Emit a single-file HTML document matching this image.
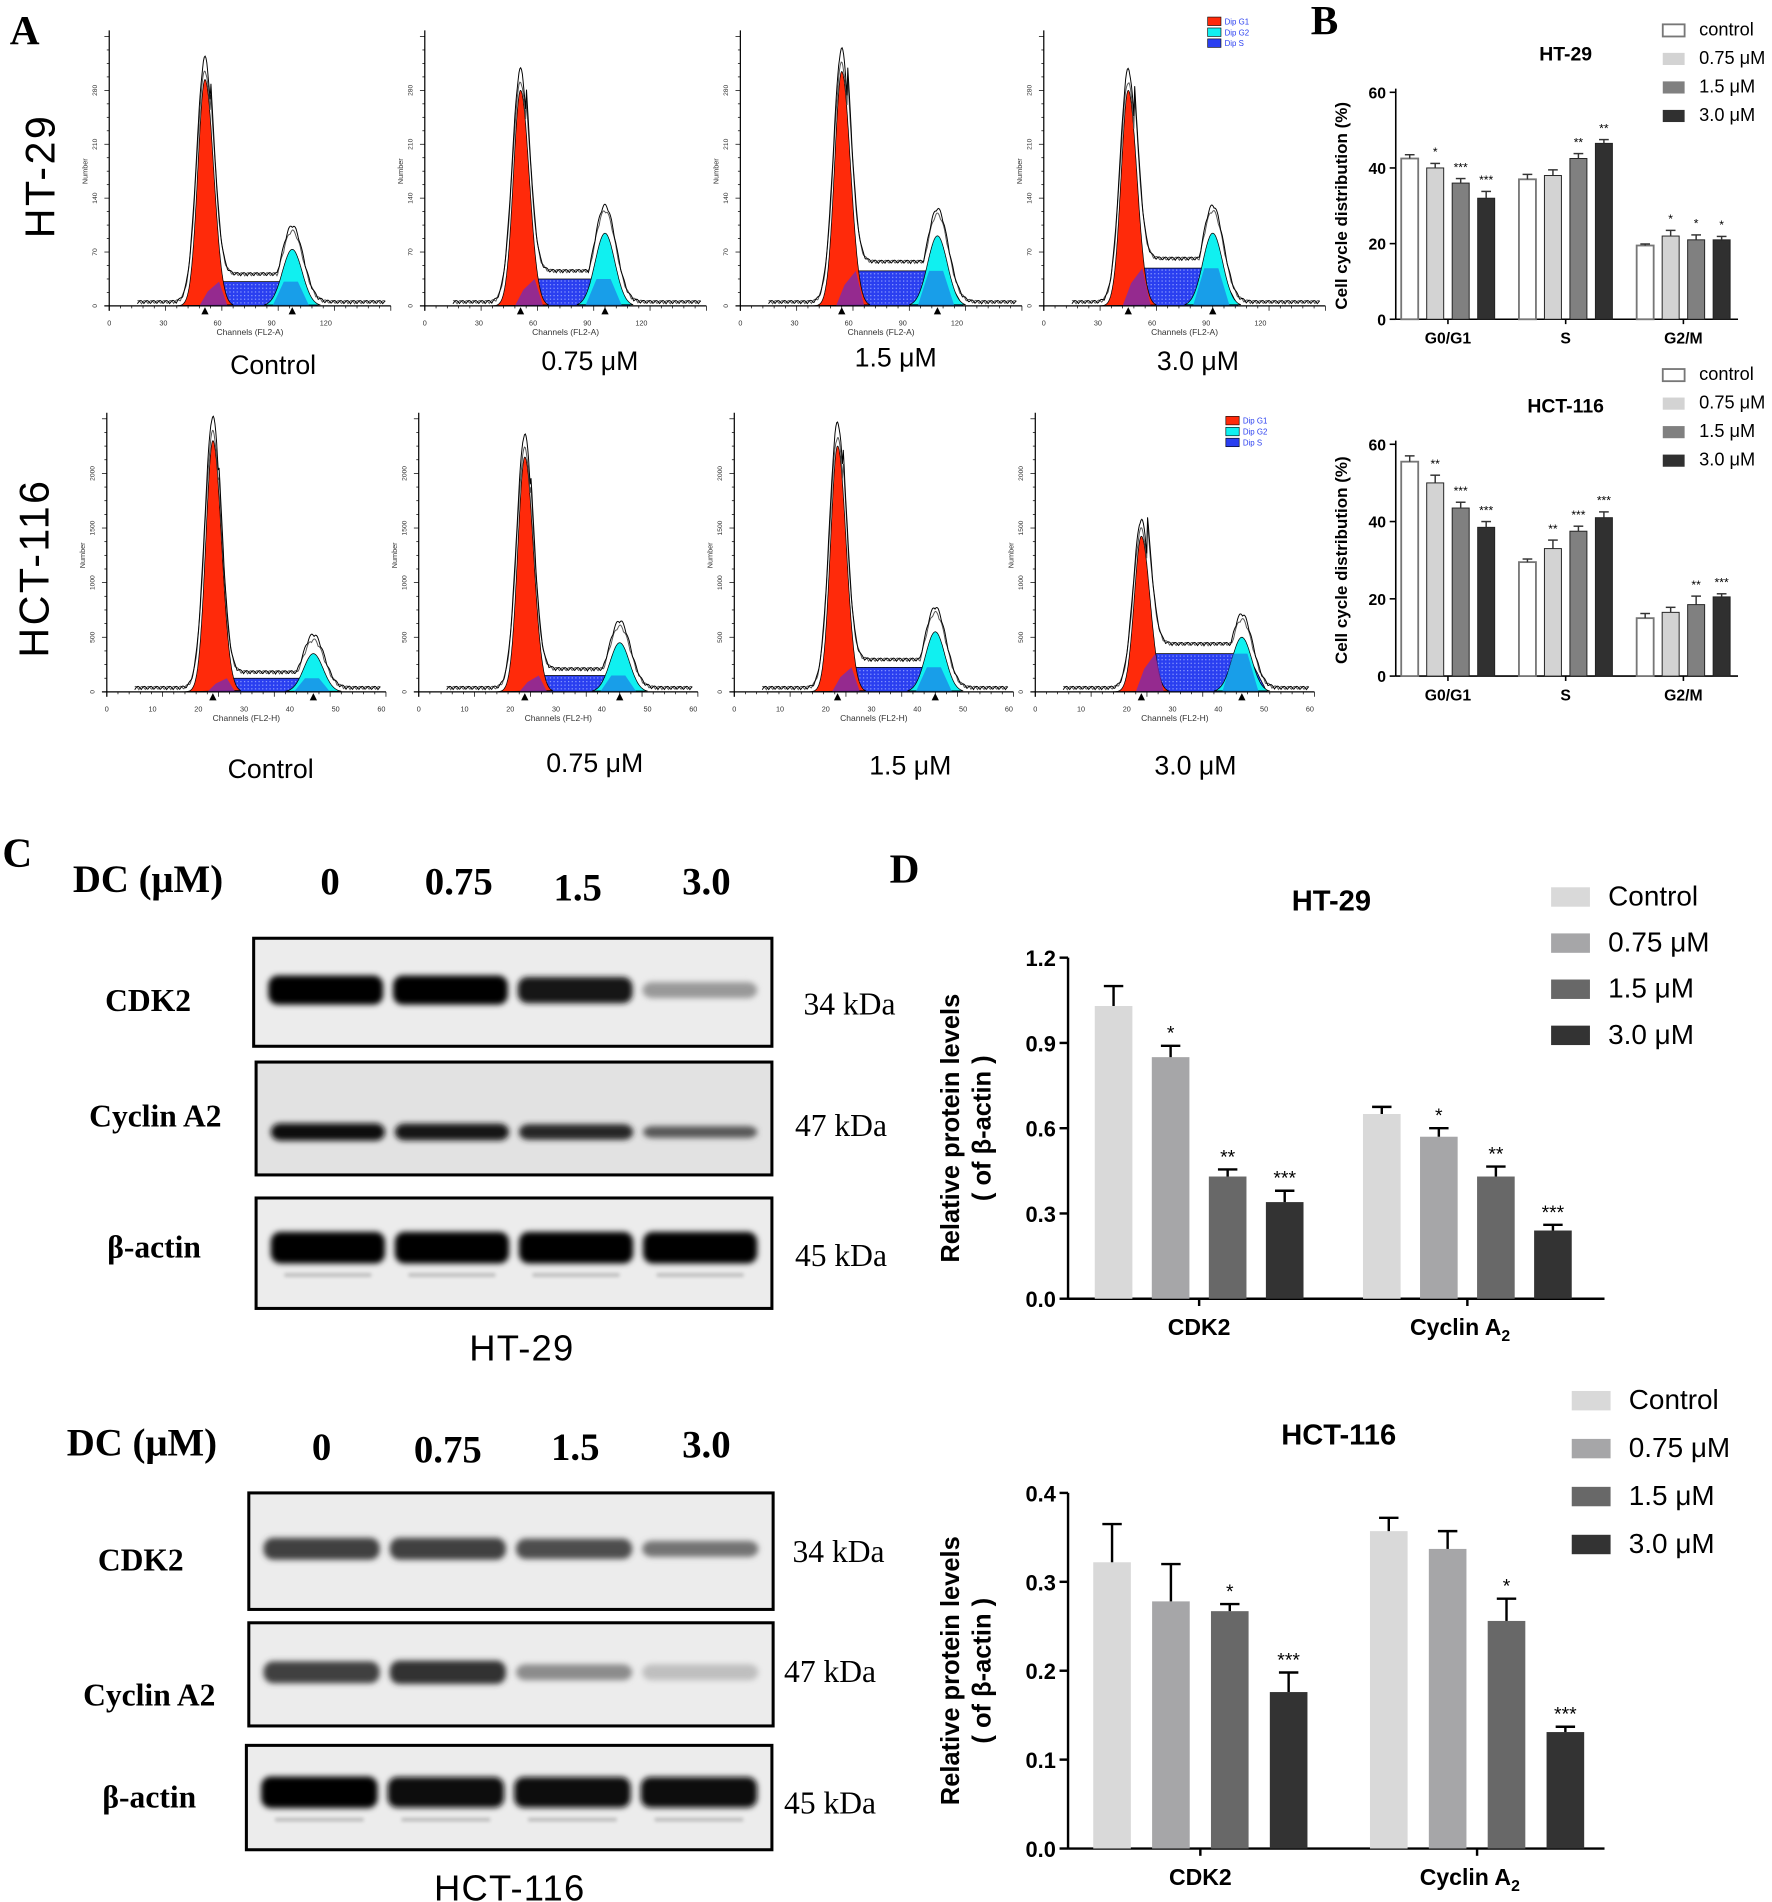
<!DOCTYPE html>
<html><head><meta charset="utf-8"><style>
html,body{margin:0;padding:0;background:#fff;}
svg{display:block;}
</style></head><body>
<svg id="fig" xmlns="http://www.w3.org/2000/svg" width="1772" height="1902" viewBox="0 0 1460 1567">
<defs>
<pattern id="dots" width="3" height="3" patternUnits="userSpaceOnUse"><rect width="3" height="3" fill="#2a3ff0"/><rect width="1" height="1" fill="#8fa0ff"/></pattern>
<filter id="blur" x="-20%" y="-100%" width="140%" height="300%"><feGaussianBlur stdDeviation="2.5"/></filter>
<filter id="blur2" x="-20%" y="-100%" width="140%" height="300%"><feGaussianBlur stdDeviation="1.5"/></filter>
</defs>
<g id="root" font-family="Liberation Sans, sans-serif"></g>
</svg>
<script>
// ---------- data ----------
const histRowNames = ["HT-29", "HCT-116"];
const histDoses = ["Control", "0.75 μM", "1.5 μM", "3.0 μM"];
const ht29G1H = [0.84, 0.80, 0.87, 0.80];
const ht29G1Pos = [0.34, 0.34, 0.36, 0.30];
const ht29SH = [0.09, 0.10, 0.13, 0.14];
const ht29G2H = [0.21, 0.27, 0.26, 0.27];
const ht29G2Pos = [0.65, 0.64, 0.70, 0.60];
const hctG1H = [0.92, 0.86, 0.90, 0.57];
const hctG1Pos = [0.38, 0.38, 0.37, 0.38];
const hctSH = [0.05, 0.06, 0.09, 0.14];
const hctG2H = [0.14, 0.18, 0.22, 0.20];
const hctG2Pos = [0.74, 0.72, 0.72, 0.74];

const bPhases = ["G0/G1", "S", "G2/M"];
const bSeries = ["control", "0.75 μM", "1.5 μM", "3.0 μM"];
const bTicks = [0, 20, 40, 60];
const bHt29 = [[42.5, 37, 19.5], [40, 38, 22], [36, 42.5, 21], [32, 46.5, 21]];
const bHt29Err = [[1, 1.3, 0.4], [1.2, 1.5, 1.5], [1.2, 1.3, 1.3], [1.8, 1, 0.9]];
const bHt29Sig = [["", "", ""], ["*", "", "*"], ["***", "**", "*"], ["***", "**", "*"]];
const bHct = [[55.5, 29.5, 15], [50, 33, 16.5], [43.5, 37.5, 18.5], [38.5, 41, 20.5]];
const bHctErr = [[1.5, 0.8, 1.2], [2, 2.2, 1.3], [1.5, 1.3, 2.2], [1.5, 1.5, 0.8]];
const bHctSig = [["", "", ""], ["**", "**", ""], ["***", "***", "**"], ["***", "***", "***"]];

const dGroups = ["CDK2", "Cyclin A"];
const dSeries = ["Control", "0.75 μM", "1.5 μM", "3.0 μM"];
const dHtTicks = [0.0, 0.3, 0.6, 0.9, 1.2];
const dHt29 = [[1.03, 0.65], [0.85, 0.57], [0.43, 0.43], [0.34, 0.24]];
const dHt29Err = [[0.07, 0.025], [0.04, 0.03], [0.025, 0.035], [0.04, 0.02]];
const dHt29Sig = [["", ""], ["*", "*"], ["**", "**"], ["***", "***"]];
const dHctTicks = [0.0, 0.1, 0.2, 0.3, 0.4];
const dHct = [[0.322, 0.357], [0.278, 0.337], [0.267, 0.256], [0.176, 0.131]];
const dHctErr = [[0.043, 0.015], [0.042, 0.02], [0.008, 0.025], [0.022, 0.006]];
const dHctSig = [["", ""], ["", ""], ["*", "*"], ["***", "***"]];

const blotLanes = ["0", "0.75", "1.5", "3.0"];
const blotHtCdk2 = [1.0, 1.0, 0.9, 0.4];
const blotHtCyc = [0.95, 0.92, 0.85, 0.65];
const blotHtAct = [1, 1, 1, 1];
const blotHcCdk2 = [0.75, 0.75, 0.7, 0.55];
const blotHcCyc = [0.75, 0.8, 0.45, 0.25];
const blotHcAct = [1, 0.97, 0.97, 0.97];

// ---------- helpers ----------
const NS = "http://www.w3.org/2000/svg";
const root = document.getElementById("root");
function mk(tag, attrs, parent) {
  const e = document.createElementNS(NS, tag);
  for (const k in attrs) e.setAttribute(k, attrs[k]);
  (parent || root).appendChild(e);
  return e;
}
function txt(s, x, y, size, opts, parent) {
  const o = Object.assign({x: x, y: y, "font-size": size}, opts || {});
  const t = mk("text", o, parent);
  t.textContent = s;
  return t;
}
function lbl(s, x, y, size, name, opts) {
  const t = txt(s, x, y, size, opts);
  
  
  return t;
}

// ---------- panel labels ----------
lbl("A", 8, 36, 34, "panel-a-label", {"font-family": "Liberation Serif, serif", "font-weight": "bold"});
lbl("B", 1080, 28, 34, "panel-b-label", {"font-family": "Liberation Serif, serif", "font-weight": "bold"});
lbl("C", 2, 714, 34, "panel-c-label", {"font-family": "Liberation Serif, serif", "font-weight": "bold"});
lbl("D", 733, 727, 34, "panel-d-label", {"font-family": "Liberation Serif, serif", "font-weight": "bold"});
lbl("HT-29", 45, 145, 34, "row-label-ht29", {"text-anchor": "middle", transform: "rotate(-90 45 145)", "letter-spacing": "2"});
lbl("HCT-116", 40, 468, 34, "row-label-hct116", {"text-anchor": "middle", transform: "rotate(-90 40 468)", "letter-spacing": "2"});

// ---------- panel A histograms ----------
function gauss(x, mu, s) { return Math.exp(-0.5 * ((x - mu) / s) ** 2); }
function histogram(x0, base, w, top, g1p, g1h, sh, g2p, g2h, name, rowIdx, colIdx) {
  const g = mk("g", {});
  
  
  const H = base - top;
  const X = f => x0 + f * w;
  const s1 = 0.028, s2 = 0.035;
  const N = 200;
  const sL = g1p + 0.03, sR = g2p + 0.02;
  const sPts = [];
  for (let i = 0; i <= N; i++) {
    const f = g1p - 0.06 + (g2p + 0.09 - g1p + 0.06) * i / N;
    let v = 0;
    if (f < sL) v = sh * Math.max(0, (f - (g1p - 0.06)) / (sL - g1p + 0.06));
    else if (f > sR) v = sh * Math.max(0, 1 - (f - sR) / 0.07);
    else v = sh;
    sPts.push([X(f), base - v * H]);
  }
  let d = "M" + sPts.map(p => p[0].toFixed(1) + "," + p[1].toFixed(1)).join(" L") + " Z";
  mk("path", {d: d, fill: "url(#dots)", stroke: "#000", "stroke-width": 0.6}, g);
  let p1 = [];
  for (let i = 0; i <= N; i++) { const f = g1p - 0.1 + 0.2 * i / N; p1.push([X(f), base - g1h * H * gauss(f, g1p, s1 * (f > g1p ? 1.1 : 0.9))]); }
  mk("path", {d: "M" + p1.map(p => p[0].toFixed(1) + "," + p[1].toFixed(1)).join(" L") + " Z", fill: "#ff2a0a", stroke: "#000", "stroke-width": 0.6}, g);
  mk("path", {d: `M${X(g1p - 0.02)},${base} L${X(g1p + 0.01)},${base - sh * H * 0.6} L${X(sL + 0.02)},${base - sh * H} L${X(sL + 0.05)},${base} Z`, fill: "#7a2ab0", opacity: 0.8}, g);
  let p2 = [];
  for (let i = 0; i <= N; i++) { const f = g2p - 0.1 + 0.2 * i / N; p2.push([X(f), base - g2h * H * gauss(f, g2p, s2)]); }
  mk("path", {d: "M" + p2.map(p => p[0].toFixed(1) + "," + p[1].toFixed(1)).join(" L") + " Z", fill: "#10f0f0", stroke: "#000", "stroke-width": 0.6}, g);
  mk("path", {d: `M${X(g2p - 0.07)},${base} L${X(g2p - 0.03)},${base - sh * H} L${X(g2p + 0.02)},${base - sh * H} L${X(g2p + 0.06)},${base} Z`, fill: "#1a8fe8", opacity: 0.85}, g);
  for (let k = 0; k < 2; k++) {
    const pts = [];
    for (let i = 0; i <= 300; i++) {
      const f = 0.1 + 0.88 * i / 300;
      const plat = (f > g1p + 0.02 && f < g2p + 0.03) ? sh * 1.15 : 0;
      let v = g1h * (1.02 + 0.06 * k) * gauss(f, g1p, s1 * 1.05) + Math.max((g2h * 1.25 + 0.02 * k) * gauss(f, g2p, s2 * 1.1), plat);
      v += 0.008 + 0.012 * Math.abs(Math.sin(f * 137 + k * 2));
      pts.push([X(f), base - v * H]);
    }
    mk("path", {d: "M" + pts.map(p => p[0].toFixed(1) + "," + p[1].toFixed(1)).join(" L"), fill: "none", stroke: k ? "#000" : "#555", "stroke-width": 0.8}, g);
  }
  mk("line", {x1: x0, y1: top - 5, x2: x0, y2: base + 4, stroke: "#000", "stroke-width": 1}, g);
  mk("line", {x1: x0 - 4, y1: base, x2: x0 + w, y2: base, stroke: "#000", "stroke-width": 1}, g);
  for (let i = 0; i <= 20; i++) mk("line", {x1: x0 - (i % 4 ? 2 : 4), y1: base - H * i / 20, x2: x0, y2: base - H * i / 20, stroke: "#000", "stroke-width": 0.6}, g);
  for (let i = 0; i <= 25; i++) mk("line", {x1: x0 + w * i / 25, y1: base, x2: x0 + w * i / 25, y2: base + (i % 5 ? 2 : 4), stroke: "#000", "stroke-width": 0.6}, g);
  [g1p, g2p].forEach(f => mk("path", {d: `M${X(f) - 3},${base + 7} L${X(f) + 3},${base + 7} L${X(f)},${base + 1} Z`, fill: "#000"}, g));
  const xl = rowIdx === 0 ? ["0", "30", "60", "90", "120"] : ["0", "10", "20", "30", "40", "50", "60"];
  xl.forEach((s, i) => txt(s, x0 + w * i / (rowIdx === 0 ? 5.2 : 6.1), base + 16, 6, {"text-anchor": "middle", fill: "#333"}, g));
  txt(rowIdx === 0 ? "Channels (FL2-A)" : "Channels (FL2-H)", x0 + w * 0.5, base + 24, 7, {"text-anchor": "middle", fill: "#333"}, g);
  txt("Number", x0 - 18, top + H * 0.5, 6, {"text-anchor": "middle", transform: `rotate(-90 ${x0 - 18} ${top + H * 0.5})`, fill: "#333"}, g);
  for (let i = 0; i <= 4; i++) txt(String(i * (rowIdx ? 500 : 70)), x0 - 10, base - H * i / 5, 5.5, {"text-anchor": "middle", transform: `rotate(-90 ${x0 - 10} ${base - H * i / 5})`, fill: "#333"}, g);
}
const row1X = [90, 350, 610, 860], row2X = [88, 345, 605, 853];
const titles1 = [[225, 300], [486, 297], [738, 294], [987, 297]];
const titles2 = [[223, 633], [490, 628], [750, 630], [985, 630]];
for (let i = 0; i < 4; i++) {
  histogram(row1X[i], 252, 232, 30, ht29G1Pos[i], ht29G1H[i], ht29SH[i], ht29G2Pos[i], ht29G2H[i], "histogram-ht29-" + i, 0, i);
  lbl(histDoses[i], titles1[i][0], titles1[i][1] + 8, 22, "histogram-title-ht29-" + i, {"text-anchor": "middle"});
  histogram(row2X[i], 570, 230, 345, hctG1Pos[i], hctG1H[i], hctSH[i], hctG2Pos[i], hctG2H[i], "histogram-hct116-" + i, 1, i);
  lbl(histDoses[i], titles2[i][0], titles2[i][1] + 8, 22, "histogram-title-hct116-" + i, {"text-anchor": "middle"});
}
[[995, 14], [1010, 343]].forEach((p, j) => {
  ["Dip G1", "Dip G2", "Dip S"].forEach((s, i) => {
    const r = mk("rect", {x: p[0], y: p[1] + i * 9, width: 11, height: 7, fill: ["#ff2a0a", "#10f0f0", "#2a3ff0"][i], stroke: "#000", "stroke-width": 0.5});
    
    
    txt(s, p[0] + 14, p[1] + i * 9 + 6, 6.5, {fill: "#2a3ff0"});
  });
});

// ---------- panel B ----------
const bColors = ["#ffffff", "#d3d3d3", "#808080", "#303030"];
function barB(values, errs, sigs, ax, y0, yTop, title, titleY, legY, tag) {
  const ymax = 60;
  const Y = v => y0 - (y0 - yTop) * v / ymax;
  const groupX = [1193, 1290, 1387];
  const bw = 14, step = 21;
  mk("line", {x1: ax, y1: yTop - 3, x2: ax, y2: y0, stroke: "#000", "stroke-width": 1.3});
  mk("line", {x1: ax, y1: y0, x2: 1432, y2: y0, stroke: "#000", "stroke-width": 1.3});
  bTicks.forEach(t => {
    mk("line", {x1: ax - 5, y1: Y(t), x2: ax, y2: Y(t), stroke: "#000", "stroke-width": 1.3});
    txt(String(t), ax - 8, Y(t) + 5, 13, {"text-anchor": "end", "font-weight": "bold"});
  });
  lbl("Cell cycle distribution (%)", 1110, (y0 + yTop) / 2, 14, "y-axis-title-b-" + tag, {"text-anchor": "middle", "font-weight": "bold", transform: `rotate(-90 1110 ${(y0 + yTop) / 2})`});
  bPhases.forEach((p, gi) => {
    mk("line", {x1: groupX[gi], y1: y0, x2: groupX[gi], y2: y0 + 4, stroke: "#000", "stroke-width": 1.3});
    lbl(p, groupX[gi], y0 + 20, 13, "x-tick-b-" + tag + "-" + gi, {"text-anchor": "middle", "font-weight": "bold"});
    for (let s = 0; s < 4; s++) {
      const cx = groupX[gi] + (s - 1.5) * step;
      const v = values[s][gi];
      const r = mk("rect", {x: cx - bw / 2, y: Y(v), width: bw, height: y0 - Y(v), fill: bColors[s], stroke: s === 0 ? "#777" : "#222", "stroke-width": s === 0 ? 1.5 : 0.8});
      
      
      const e = errs[s][gi];
      mk("line", {x1: cx, y1: Y(v), x2: cx, y2: Y(v + e), stroke: "#333", "stroke-width": 1.2});
      mk("line", {x1: cx - 4, y1: Y(v + e), x2: cx + 4, y2: Y(v + e), stroke: "#333", "stroke-width": 1.2});
      if (sigs[s][gi]) txt(sigs[s][gi], cx, Y(v + e) - 6, 10, {"text-anchor": "middle"});
    }
  });
  lbl(title, 1290, titleY, 16, "chart-title-b-" + tag, {"text-anchor": "middle", "font-weight": "bold"});
  bSeries.forEach((s, i) => {
    const r = mk("rect", {x: 1370, y: legY + i * 23.5 - 9, width: 18, height: 10, fill: bColors[i], stroke: i === 0 ? "#777" : "none", "stroke-width": 1.5});
    
    
    lbl(s, 1400, legY + i * 23.5, 15, "legend-label-b-" + tag + "-" + i, {});
  });
}
barB(bHt29, bHt29Err, bHt29Sig, 1150, 263, 76, "HT-29", 50, 29, "ht29");
barB(bHct, bHctErr, bHctSig, 1150, 557, 366, "HCT-116", 340, 313, "hct116");

// ---------- panel C blots ----------
function blot(bx, by, bw, bh, strengths, kind, name) {
  const g = mk("g", {});
  
  
  mk("rect", {x: bx, y: by, width: bw, height: bh, fill: kind === "cyc" ? "#e2e2e2" : "#ececec", stroke: "#000", "stroke-width": 2.5}, g);
  const lw = (bw - 16) / 4;
  strengths.forEach((s, i) => {
    const cx = bx + 8 + lw * (i + 0.5);
    const hh = kind === "act" ? 26 : (kind === "cyc" ? 15 : 24);
    const cy = by + bh * (kind === "cyc" ? 0.62 : (kind === "act" ? 0.45 : 0.48));
    const shade = Math.round(255 * (1 - s));
    const c = `rgb(${shade},${shade},${shade})`;
    const h = hh * Math.max(0.55, s);
    mk("rect", {x: cx - lw * 0.46, y: cy - h / 2, width: lw * 0.92, height: h, rx: 8, fill: c, filter: "url(#blur)"}, g);
    if (kind === "act") mk("rect", {x: cx - lw * 0.35, y: cy + hh / 2 + 8, width: lw * 0.7, height: 3, fill: "#bbb", filter: "url(#blur2)"}, g);
  });
  return g;
}
const serif = {"font-family": "Liberation Serif, serif", "font-weight": "bold"};
lbl("DC (μM)", 60, 735, 32, "dc-label-ht29", serif);
[272, 378, 476, 582].forEach((x, i) => lbl(blotLanes[i], x, [737, 737, 742, 737][i], 32, "lane-label-ht29-" + i, Object.assign({"text-anchor": "middle"}, serif)));
blot(209, 773, 427, 89, blotHtCdk2, "cdk", "blot-ht29-cdk2");
blot(211, 875, 425, 93, blotHtCyc, "cyc", "blot-ht29-cyclin-a2");
blot(211, 987, 425, 91, blotHtAct, "act", "blot-ht29-actin");
lbl("CDK2", 122, 833, 26, "protein-label-ht29-cdk2", Object.assign({"text-anchor": "middle"}, serif));
lbl("Cyclin A2", 128, 928, 26, "protein-label-ht29-cyclin", Object.assign({"text-anchor": "middle"}, serif));
lbl("β-actin", 127, 1036, 26, "protein-label-ht29-actin", Object.assign({"text-anchor": "middle"}, serif));
const kdaF = {"font-family": "Liberation Serif, serif"};
lbl("34 kDa", 662, 836, 26, "kda-ht29-cdk2", kdaF);
lbl("47 kDa", 655, 936, 26, "kda-ht29-cyclin", kdaF);
lbl("45 kDa", 655, 1043, 26, "kda-ht29-actin", kdaF);
lbl("HT-29", 430, 1121, 30, "blot-caption-ht29", {"text-anchor": "middle", "letter-spacing": "1"});
lbl("DC (μM)", 55, 1199, 32, "dc-label-hct116", serif);
[265, 369, 474, 582].forEach((x, i) => lbl(blotLanes[i], x, [1203, 1205, 1203, 1201][i], 32, "lane-label-hct116-" + i, Object.assign({"text-anchor": "middle"}, serif)));
blot(205, 1230, 432, 96, blotHcCdk2, "cdk", "blot-hct116-cdk2");
blot(205, 1337, 432, 85, blotHcCyc, "cdk", "blot-hct116-cyclin-a2");
blot(203, 1438, 433, 86, blotHcAct, "act", "blot-hct116-actin");
lbl("CDK2", 116, 1294, 26, "protein-label-hct116-cdk2", Object.assign({"text-anchor": "middle"}, serif));
lbl("Cyclin A2", 123, 1405, 26, "protein-label-hct116-cyclin", Object.assign({"text-anchor": "middle"}, serif));
lbl("β-actin", 123, 1489, 26, "protein-label-hct116-actin", Object.assign({"text-anchor": "middle"}, serif));
lbl("34 kDa", 653, 1287, 26, "kda-hct116-cdk2", kdaF);
lbl("47 kDa", 646, 1386, 26, "kda-hct116-cyclin", kdaF);
lbl("45 kDa", 646, 1494, 26, "kda-hct116-actin", kdaF);
lbl("HCT-116", 420, 1566, 30, "blot-caption-hct116", {"text-anchor": "middle", "letter-spacing": "1"});

// ---------- panel D ----------
const dColors = ["#d9d9d9", "#a6a6a8", "#686868", "#333333"];
function barD(values, errs, sigs, ticks, y0, yTop, groupX, title, titleX, titleY, legX, legY, legStep, tag) {
  const ax = 880, ymax = ticks[ticks.length - 1];
  const Y = v => y0 - (y0 - yTop) * v / ymax;
  const bw = 31, step = [47, 48.5][tag === "ht29" ? 0 : 1];
  mk("line", {x1: ax, y1: yTop, x2: ax, y2: y0, stroke: "#000", "stroke-width": 2});
  mk("line", {x1: ax, y1: y0, x2: 1322, y2: y0, stroke: "#000", "stroke-width": 2});
  ticks.forEach(t => {
    mk("line", {x1: ax - 7, y1: Y(t), x2: ax, y2: Y(t), stroke: "#000", "stroke-width": 2});
    txt(t.toFixed(1), ax - 10, Y(t) + 7, 18, {"text-anchor": "end", "font-weight": "bold"});
  });
  const my = (y0 + yTop) / 2;
  lbl("Relative protein levels", 790, my, 21, "y-axis-title-d-" + tag, {"text-anchor": "middle", "font-weight": "bold", transform: `rotate(-90 790 ${my})`});
  lbl("( of β-actin )", 816, my, 21, "y-axis-subtitle-d-" + tag, {"text-anchor": "middle", "font-weight": "bold", transform: `rotate(-90 816 ${my})`});
  dGroups.forEach((gname, gi) => {
    mk("line", {x1: groupX[gi], y1: y0, x2: groupX[gi], y2: y0 + 6, stroke: "#000", "stroke-width": 2});
    const t = lbl(gname, groupX[gi] - (gi ? 6 : 0), y0 + 30, 19, "x-tick-d-" + tag + "-" + gi, {"text-anchor": "middle", "font-weight": "bold"});
    if (gi === 1) { const ts = mk("tspan", {"font-size": 13, dy: 5}, t); ts.textContent = "2"; }
    for (let s = 0; s < 4; s++) {
      const cx = groupX[gi] + (s - 1.5) * step;
      const v = values[s][gi];
      const r = mk("rect", {x: cx - bw / 2, y: Y(v), width: bw, height: y0 - Y(v), fill: dColors[s]});
      
      
      const e = errs[s][gi];
      mk("line", {x1: cx, y1: Y(v), x2: cx, y2: Y(v + e), stroke: "#000", "stroke-width": 2});
      mk("line", {x1: cx - 8, y1: Y(v + e), x2: cx + 8, y2: Y(v + e), stroke: "#000", "stroke-width": 2});
      if (sigs[s][gi]) txt(sigs[s][gi], cx, Y(v + e) - 5, 16, {"text-anchor": "middle"});
    }
  });
  lbl(title, titleX, titleY, 24, "chart-title-d-" + tag, {"text-anchor": "middle", "font-weight": "bold"});
  dSeries.forEach((s, i) => {
    const r = mk("rect", {x: legX, y: legY + i * legStep - 15, width: 32, height: 16, fill: dColors[i]});
    
    
    lbl(s, legX + 47, legY + i * legStep, 23, "legend-label-d-" + tag + "-" + i, {});
  });
}
barD(dHt29, dHt29Err, dHt29Sig, dHtTicks, 1070, 789, [988, 1209], "HT-29", 1097, 750, 1278, 746, 38, "ht29");
barD(dHct, dHctErr, dHctSig, dHctTicks, 1523, 1230, [989, 1217], "HCT-116", 1103, 1190, 1295, 1161, 39.5, "hct116");
</script>
</body></html>
